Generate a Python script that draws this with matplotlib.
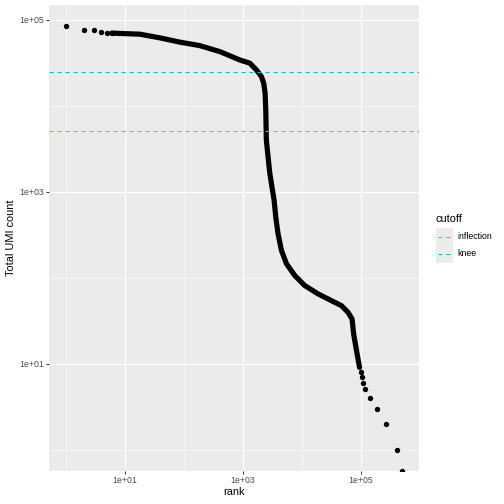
import numpy as np
import matplotlib
matplotlib.use("Agg")
import matplotlib.pyplot as plt
from matplotlib.lines import Line2D
from matplotlib.patches import Rectangle

plt.rcParams['font.family'] = ['Liberation Sans', 'DejaVu Sans']

# --- data ---
# first few barcodes (separate points)
head_rank = [1, 2, 3, 4, 5, 6]
head_umi = [84300, 77100, 75900, 71800, 70500, 70000]

# dense part of the curve (points overlap into a thick band)
curve_rank = [6, 18, 39, 85, 186, 407, 889, 1315, 1706, 2075, 2270, 2390,
              2455, 2510, 2870, 3400, 3625, 3960, 4530, 5510, 7600, 11200,
              18900, 31800, 47100, 61000, 71300, 75900, 85100, 95500]
curve_umi = [70000, 68000, 61700, 55000, 50100, 42700, 34100, 31300, 26100,
             21800, 18200, 14000, 8900, 3980, 1640, 794, 507, 324, 207, 145,
             106, 81, 64.7, 54, 47.2, 39.4, 33, 22, 14, 9]

# low-count tail (one point per count value; 0 is drawn at the panel edge)
tail_rank = [102000, 105000, 110000, 120000, 145000, 186000, 272000, 417000, 510000]
tail_umi = [8, 7, 6, 5, 4, 3, 2, 1, 0]

# cutoffs
cutoff_names = ["inflection", "knee"]
cutoff_values = [5070, 24700]
cutoff_colors = ["#F8766D", "#00BFC4"]

# --- figure ---
W = H = 504
fig = plt.figure(figsize=(W / 72, H / 72), dpi=72)
px_l, px_r, px_t, px_b = 49, 419.3, 5, 470.7
ax = fig.add_axes([px_l / W, 1 - px_b / H, (px_r - px_l) / W, (px_b - px_t) / H])
ax.set_facecolor("#EBEBEB")
for s in ax.spines.values():
    s.set_visible(False)

ax.set_xscale("log")
ax.set_yscale("log")

# ggplot style limits: data range (positive values) + 5% each side in log space
all_rank = np.array(head_rank + curve_rank + tail_rank, dtype=float)
all_umi = np.array(head_umi + curve_umi + tail_umi, dtype=float)
lx = np.log10(all_rank)
ly = np.log10(all_umi[all_umi > 0])
ex = 0.05 * (lx.max() - lx.min())
ey = 0.05 * (ly.max() - ly.min())
xlim = (10 ** (lx.min() - ex), 10 ** (lx.max() + ex))
ylim = (10 ** (ly.min() - ey), 10 ** (ly.max() + ey))
ax.set_xlim(xlim)
ax.set_ylim(ylim)

# grid
for v in [1e0, 1e2, 1e4, 1e6]:
    ax.axvline(v, color="white", lw=0.55, zorder=0.5)
for v in [1e0, 1e2, 1e4]:
    ax.axhline(v, color="white", lw=0.55, zorder=0.5)
for v in [1e1, 1e3, 1e5]:
    ax.axvline(v, color="white", lw=1.1, zorder=0.6)
    ax.axhline(v, color="white", lw=1.1, zorder=0.6)

# points
ax.plot(curve_rank, curve_umi, color="black", lw=5.2, solid_capstyle="round",
        solid_joinstyle="round", zorder=2)
ax.plot(head_rank, head_umi, "o", color="black", ms=5.4, mew=0, zorder=2)
tail_y = np.where(np.array(tail_umi) > 0, tail_umi, ylim[0])
ax.plot(tail_rank, tail_y, "o", color="black", ms=5.4, mew=0, zorder=2)

# cutoff lines
for val, col in zip(cutoff_values, cutoff_colors):
    ax.axhline(val, color=col, lw=1.0, dashes=(4, 4), zorder=3)

# ticks
ticks = [1e1, 1e3, 1e5]
ax.set_xticks(ticks)
ax.set_yticks(ticks)
ax.set_xticklabels([f"{t:.0e}" for t in ticks])
ax.set_yticklabels([f"{t:.0e}" for t in ticks])
ax.minorticks_off()
ax.tick_params(axis="both", length=2.75, width=1.0, color="#333333",
               labelcolor="#4D4D4D", labelsize=8.8, pad=2.2)

ax.set_xlabel("rank", fontsize=11, color="black", labelpad=2.2)
ax.set_ylabel("Total UMI count", fontsize=11, color="black", labelpad=3.0)

# legend (drawn like ggplot: grey key boxes with dashed segments)
fig.text(436 / W, 1 - 219 / H, "cutoff", fontsize=11, va="center", ha="left")
key_x0, key_w, key_h, key_top = 436, 17.3, 17.3, 228
for i, (name, col) in enumerate(zip(cutoff_names, cutoff_colors)):
    y0 = key_top + i * key_h
    fig.patches.append(Rectangle((key_x0 / W, 1 - (y0 + key_h) / H), key_w / W, key_h / H,
                                 transform=fig.transFigure, facecolor="#EBEBEB",
                                 edgecolor="none"))
    yc = 1 - (y0 + key_h / 2) / H
    fig.lines.append(Line2D([(key_x0 + 1.5) / W, (key_x0 + key_w - 1.5) / W], [yc, yc],
                            transform=fig.transFigure, color=col, lw=1.0,
                            dashes=(4, 4)))
    fig.text((key_x0 + key_w + 4.5) / W, yc, name, fontsize=8.8, va="center", ha="left")

fig.savefig("out.png", dpi=72)
